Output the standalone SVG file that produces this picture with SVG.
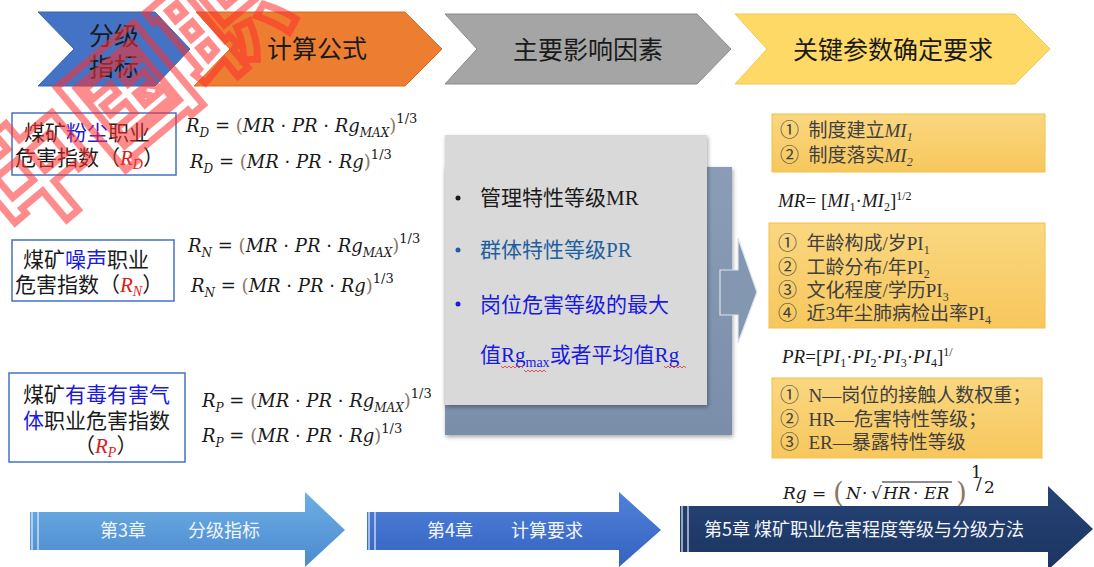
<svg xmlns="http://www.w3.org/2000/svg" width="1094" height="567" viewBox="0 0 1094 567">
<defs>
<style>
.hd{font-family:"Noto Sans CJK SC",sans-serif;font-size:25px;fill:#1a1a1a;text-anchor:middle;}
.lbox{fill:#fff;stroke:#4472C4;stroke-width:1.5;}
.lt{font-family:"Noto Sans CJK SC",sans-serif;font-size:21px;fill:#1a1a1a;}
.blue{fill:#1a1ae0;}
.red{fill:#e01a1a;font-family:"Liberation Serif",serif;font-style:italic;}
.math{font-family:"DejaVu Serif","Liberation Serif",serif;font-style:italic;font-size:18px;fill:#1a1a1a;}
.up{font-style:normal;}
.par{fill:#8a7868;font-style:normal;}
.sub{font-size:12px;}
.sup{font-size:13px;font-style:normal;}
.bul{font-family:"Liberation Serif","Noto Sans CJK SC",serif;font-size:21px;}
.rt{font-family:"Liberation Serif","Noto Sans CJK SC",serif;font-size:19px;fill:#404040;}
.it{font-style:italic;}
.ybox{fill:url(#yg);stroke:#f2c04a;stroke-width:1;}
.tm{font-family:"Liberation Serif",serif;font-style:italic;font-size:19px;fill:#1a1a1a;}
.bt{font-family:"Noto Sans CJK SC",sans-serif;font-size:18px;fill:#f2f6fc;}
.stripe{stroke:#e8eef8;stroke-width:1.5;opacity:0.8;}
.wavy{fill:none;stroke:#e03030;stroke-width:0.8;}
.rg{font-family:"DejaVu Serif",serif;font-size:17px;fill:#1a1a1a;}
</style>
<linearGradient id="yg" x1="0" y1="0" x2="0" y2="1"><stop offset="0" stop-color="#fad780"/><stop offset="1" stop-color="#f7c75c"/></linearGradient>
<linearGradient id="a1" x1="0" y1="0" x2="0" y2="1"><stop offset="0" stop-color="#6eaee4"/><stop offset="1" stop-color="#4a8ad0"/></linearGradient>
<linearGradient id="a2" x1="0" y1="0" x2="0" y2="1"><stop offset="0" stop-color="#4f82da"/><stop offset="1" stop-color="#3562c0"/></linearGradient>
<linearGradient id="a3" x1="0" y1="0" x2="0" y2="1"><stop offset="0" stop-color="#264476"/><stop offset="1" stop-color="#1c3460"/></linearGradient>
<linearGradient id="bk" x1="0" y1="0" x2="0" y2="1"><stop offset="0" stop-color="#8b9db6"/><stop offset="1" stop-color="#7a8eaa"/></linearGradient>
<filter id="sh" x="-10%" y="-10%" width="130%" height="130%"><feDropShadow dx="1" dy="2" stdDeviation="2" flood-color="#000" flood-opacity="0.35"/></filter>
</defs>
<rect width="1094" height="567" fill="#fff"/>

<g id="step1">
<polygon points="38,12 155,12 190,49 155,86 38,86 74,49" fill="#4472C4" stroke="#3a64b0" stroke-width="1"/>
<text class="hd" x="114" y="45">分级</text>
<text class="hd" x="114" y="76">指标</text>
</g>
<g id="step2">
<polygon points="196,12 405,12 442,49 405,86 194,86 230,49" fill="#ED7D31" stroke="#d86c22" stroke-width="1"/>
<text class="hd" x="317" y="58">计算公式</text>
</g>
<g id="step3">
<polygon points="445,14 697,14 731,49 697,84 445,84 477,49" fill="#A5A5A5" stroke="#8a8a8a" stroke-width="1"/>
<text class="hd" x="588" y="59">主要影响因素</text>
</g>
<g id="step4">
<polygon points="735,14 1015,14 1050,49 1015,84 735,84 767,49" fill="#FFD966" stroke="#f0c850" stroke-width="1"/>
<text class="hd" x="893" y="59">关键参数确定要求</text>
</g>

<g id="rd">
<rect class="lbox" x="12" y="113" width="164" height="62"/>
<text class="lt" x="24" y="140">煤矿<tspan class="blue">粉尘</tspan>职业</text>
<text class="lt" x="15" y="165">危害指数（<tspan class="red">R</tspan><tspan class="red" font-size="14" dy="4">D</tspan><tspan dy="-4">）</tspan></text>
<text class="math" x="186" y="132">R<tspan class="sub" dy="5">D</tspan><tspan class="up" dy="-5"> = </tspan><tspan class="par">(</tspan>MR<tspan class="up"> · </tspan>PR<tspan class="up"> · </tspan>Rg<tspan class="sub" dy="5">MAX</tspan><tspan class="par" dy="-5">)</tspan><tspan class="sup" dy="-9">1/3</tspan></text>
<text class="math" x="190" y="168">R<tspan class="sub" dy="5">D</tspan><tspan class="up" dy="-5"> = </tspan><tspan class="par">(</tspan>MR<tspan class="up"> · </tspan>PR<tspan class="up"> · </tspan>Rg<tspan class="par">)</tspan><tspan class="sup" dy="-9">1/3</tspan></text>
</g>

<g id="rn">
<rect class="lbox" x="12" y="240" width="162" height="61"/>
<text class="lt" x="23" y="267">煤矿<tspan class="blue">噪声</tspan>职业</text>
<text class="lt" x="15" y="292">危害指数（<tspan class="red">R</tspan><tspan class="red" font-size="14" dy="4">N</tspan><tspan dy="-4">）</tspan></text>
<text class="math" x="188" y="252">R<tspan class="sub" dy="5">N</tspan><tspan class="up" dy="-5"> = </tspan><tspan class="par">(</tspan>MR<tspan class="up"> · </tspan>PR<tspan class="up"> · </tspan>Rg<tspan class="sub" dy="5">MAX</tspan><tspan class="par" dy="-5">)</tspan><tspan class="sup" dy="-9">1/3</tspan></text>
<text class="math" x="191" y="292">R<tspan class="sub" dy="5">N</tspan><tspan class="up" dy="-5"> = </tspan><tspan class="par">(</tspan>MR<tspan class="up"> · </tspan>PR<tspan class="up"> · </tspan>Rg<tspan class="par">)</tspan><tspan class="sup" dy="-9">1/3</tspan></text>
</g>

<g id="rp">
<rect class="lbox" x="9" y="373" width="176" height="89"/>
<text class="lt" x="23" y="402">煤矿<tspan class="blue">有毒有害气</tspan></text>
<text class="lt" x="23" y="428"><tspan class="blue">体</tspan>职业危害指数</text>
<text class="lt" x="74" y="453">（<tspan class="red">R</tspan><tspan class="red" font-size="14" dy="4">P</tspan><tspan dy="-4">）</tspan></text>
<text class="math" x="202" y="407">R<tspan class="sub" dy="5">P</tspan><tspan class="up" dy="-5"> = </tspan><tspan class="par">(</tspan>MR<tspan class="up"> · </tspan>PR<tspan class="up"> · </tspan>Rg<tspan class="sub" dy="5">MAX</tspan><tspan class="par" dy="-5">)</tspan><tspan class="sup" dy="-9">1/3</tspan></text>
<text class="math" x="202" y="442">R<tspan class="sub" dy="5">P</tspan><tspan class="up" dy="-5"> = </tspan><tspan class="par">(</tspan>MR<tspan class="up"> · </tspan>PR<tspan class="up"> · </tspan>Rg<tspan class="par">)</tspan><tspan class="sup" dy="-9">1/3</tspan></text>
</g>

<g id="factors">
<rect x="445" y="167" width="287" height="268" fill="url(#bk)" filter="url(#sh)"/>
<rect x="445" y="135" width="262" height="270" fill="#d9d9d9" filter="url(#sh)"/>
<circle cx="458" cy="198" r="2.5" fill="#1a1a1a"/>
<text class="bul" x="480" y="205" fill="#1a1a1a">管理特性等级MR</text>
<circle cx="458" cy="250" r="2.5" fill="#1f5f9f"/>
<text class="bul" x="480" y="257" fill="#1f5f9f">群体特性等级PR</text>
<circle cx="458" cy="304" r="2.5" fill="#1a1ae0"/>
<text class="bul" x="480" y="312" fill="#1a1ae0">岗位危害等级的最大</text>
<text class="bul" x="480" y="362" fill="#1a1ae0">值Rg<tspan font-size="14" dy="5">max</tspan><tspan dy="-5">或者平均值Rg</tspan></text>
<path class="wavy" d="M501,366 l2,2 l2,-2 l2,2 l2,-2 l2,2 l2,-2 l2,2 l2,-2 l2,2 l2,-2 l2,2"/>
<path class="wavy" d="M524,370 l2,2 l2,-2 l2,2 l2,-2 l2,2 l2,-2 l2,2 l2,-2 l2,2 l2,-2 l2,2"/>
<path class="wavy" d="M664,366 l2,2 l2,-2 l2,2 l2,-2 l2,2 l2,-2 l2,2 l2,-2 l2,2 l2,-2 l2,2"/>
</g>

<g id="connectors">
<polygon points="720,270 738,270 738,238 757,292 738,343 738,315 720,315" fill="#8497B0" stroke="#dde3ec" stroke-width="1.2"/>
</g>

<g id="mi">
<rect class="ybox" x="772" y="114" width="273" height="58"/>
<text class="rt" x="780" y="137" xml:space="preserve">①  制度建立<tspan class="it">MI</tspan><tspan class="it" font-size="12" dy="4">1</tspan></text>
<text class="rt" x="780" y="162" xml:space="preserve">②  制度落实<tspan class="it">MI</tspan><tspan class="it" font-size="12" dy="4">2</tspan></text>
</g>
<text class="tm" x="778" y="207">MR<tspan font-style="normal">= [</tspan>MI<tspan font-size="12" font-style="normal" dy="4">1</tspan><tspan font-style="normal" dy="-4">·</tspan>MI<tspan font-size="12" font-style="normal" dy="4">2</tspan><tspan font-style="normal" dy="-4">]</tspan><tspan font-size="12" font-style="normal" dy="-7">1/2</tspan></text>

<g id="pi">
<rect class="ybox" x="769" y="223" width="276" height="105"/>
<text class="rt" x="778" y="250" xml:space="preserve">①  年龄构成/岁PI<tspan font-size="12" dy="4">1</tspan></text>
<text class="rt" x="778" y="274" xml:space="preserve">②  工龄分布/年PI<tspan font-size="12" dy="4">2</tspan></text>
<text class="rt" x="778" y="297" xml:space="preserve">③  文化程度/学历PI<tspan font-size="12" dy="4">3</tspan></text>
<text class="rt" x="778" y="320" xml:space="preserve">④  近3年尘肺病检出率PI<tspan font-size="12" dy="4">4</tspan></text>
</g>
<text class="tm" x="782" y="363">PR<tspan font-style="normal">=[</tspan>PI<tspan font-size="12" font-style="normal" dy="4">1</tspan><tspan font-style="normal" dy="-4">·</tspan>PI<tspan font-size="12" font-style="normal" dy="4">2</tspan><tspan font-style="normal" dy="-4">·</tspan>PI<tspan font-size="12" font-style="normal" dy="4">3</tspan><tspan font-style="normal" dy="-4">·</tspan>PI<tspan font-size="12" font-style="normal" dy="4">4</tspan><tspan font-style="normal" dy="-4">]</tspan><tspan font-size="12" font-style="normal" dy="-7">1/</tspan></text>

<g id="rg">
<rect class="ybox" x="772" y="378" width="270" height="80"/>
<text class="rt" x="780" y="402" xml:space="preserve">①  N—岗位的接触人数权重；</text>
<text class="rt" x="780" y="426" xml:space="preserve">②  HR—危害特性等级；</text>
<text class="rt" x="780" y="449" xml:space="preserve">③  ER—暴露特性等级</text>
</g>
<g id="rgformula">
<text class="rg" x="783" y="499" font-style="italic">Rg</text>
<text class="rg" x="812" y="499">=</text>
<text class="par" x="833" y="502" font-family="DejaVu Serif,serif" font-size="28">(</text>
<text class="rg" x="846" y="499" font-style="italic">N</text>
<text class="rg" x="862" y="499">·</text>
<text class="rg" x="871" y="499">√</text>
<line x1="882" y1="482" x2="952" y2="482" stroke="#1a1a1a" stroke-width="1"/>
<text class="rg" x="883" y="499" font-style="italic">HR</text>
<text class="rg" x="913" y="499">·</text>
<text class="rg" x="924" y="499" font-style="italic">ER</text>
<text class="par" x="956" y="502" font-family="DejaVu Serif,serif" font-size="28">)</text>
<text class="rg" x="971" y="478" font-size="13">1</text>
<text class="rg" x="976" y="489" font-size="15">/</text>
<text class="rg" x="984" y="493" font-size="13">2</text>
</g>

<g id="ch3">
<polygon points="30,512 305,512 305,492 345,530 305,567 305,550 30,550" fill="url(#a1)"/>
<line class="stripe" x1="32" y1="512" x2="32" y2="550"/><line class="stripe" x1="38" y1="512" x2="38" y2="550"/>
<text class="bt" x="100" y="537">第3章</text>
<text class="bt" x="188" y="537">分级指标</text>
</g>
<g id="ch4">
<polygon points="367,512 619,512 619,492 661,530 619,567 619,550 367,550" fill="url(#a2)"/>
<line class="stripe" x1="369" y1="512" x2="369" y2="550"/><line class="stripe" x1="375" y1="512" x2="375" y2="550"/>
<text class="bt" x="427" y="537">第4章</text>
<text class="bt" x="511" y="537">计算要求</text>
</g>
<g id="ch5">
<polygon points="680,506 1048,506 1048,486 1093,529 1048,570 1048,552 680,552" fill="url(#a3)"/>
<line class="stripe" x1="682" y1="506" x2="682" y2="552"/><line class="stripe" x1="688" y1="506" x2="688" y2="552"/>
<text class="bt" x="704" y="536" font-size="19">第5章 煤矿职业危害程度等级与分级方法</text>
</g>

<g id="watermark" opacity="0.55">
<text transform="translate(20,245) rotate(-40)" font-family="Noto Sans CJK SC,sans-serif" font-size="120" font-weight="bold" fill="none" stroke="#ff3030" stroke-width="7">中国职</text>
</g>
</svg>
